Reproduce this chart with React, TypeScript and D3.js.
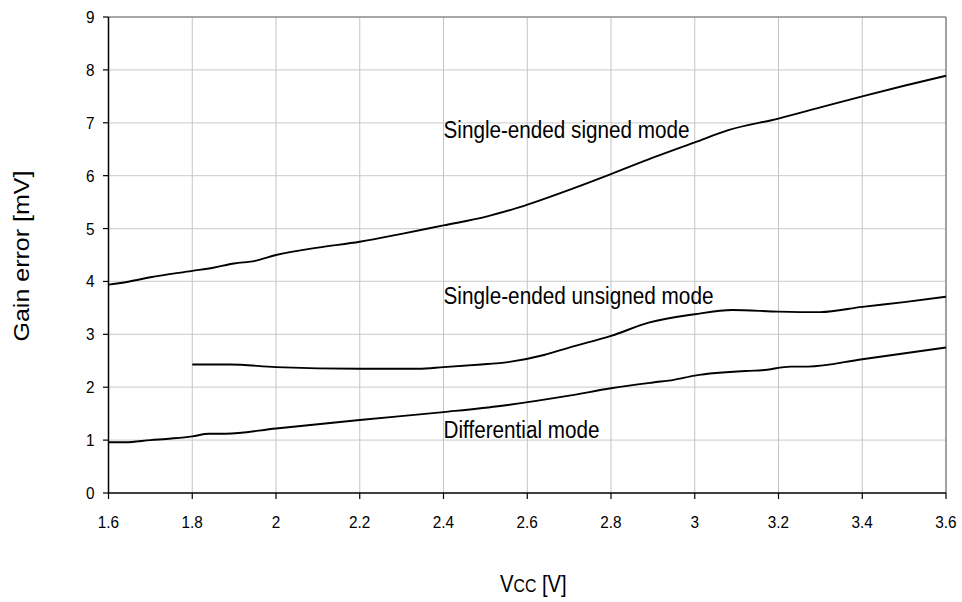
import React from "react";
import * as d3 from "d3";

const xTicks = [1.6, 1.8, 2.0, 2.2, 2.4, 2.6, 2.8, 3.0, 3.2, 3.4, 3.6];
const xTickLabels = ["1.6", "1.8", "2", "2.2", "2.4", "2.6", "2.8", "3", "3.2", "3.4", "3.6"];
const yTicks = [0, 1, 2, 3, 4, 5, 6, 7, 8, 9];

const signedX = [1.6, 1.65, 1.7, 1.8, 1.85, 1.9, 1.95, 2.0, 2.1, 2.2, 2.3, 2.4, 2.5, 2.58, 2.71, 2.8, 2.9, 3.0, 3.08, 3.2, 3.3, 3.4, 3.5, 3.6];
const signedY = [3.94, 4.0, 4.08, 4.2, 4.26, 4.34, 4.39, 4.5, 4.64, 4.75, 4.9, 5.06, 5.22, 5.4, 5.76, 6.03, 6.34, 6.63, 6.86, 7.08, 7.29, 7.5, 7.7, 7.89];

const unsignedX = [1.8, 1.89, 2.0, 2.2, 2.34, 2.4, 2.49, 2.54, 2.64, 2.7, 2.8, 2.89, 3.0, 3.09, 3.2, 3.3, 3.4, 3.5, 3.6];
const unsignedY = [2.43, 2.43, 2.38, 2.35, 2.35, 2.38, 2.43, 2.46, 2.61, 2.75, 2.97, 3.22, 3.38, 3.46, 3.43, 3.42, 3.52, 3.61, 3.71];

const diffX = [1.6, 1.64, 1.7, 1.75, 1.8, 1.84, 1.88, 2.0, 2.2, 2.4, 2.54, 2.7, 2.8, 2.9, 2.95, 3.0, 3.13, 3.16, 3.23, 3.27, 3.4, 3.6];
const diffY = [0.96, 0.96, 1.0, 1.03, 1.07, 1.12, 1.12, 1.22, 1.38, 1.53, 1.65, 1.84, 1.98, 2.09, 2.14, 2.22, 2.31, 2.32, 2.39, 2.39, 2.53, 2.75];

const seriesLabels = ["Single-ended signed mode", "Single-ended unsigned mode", "Differential mode"];

const W = 962, H = 602;
const L = 108.5, R = 946, T = 17, B = 493;
const FONT = "'Liberation Sans', Arial, sans-serif";

export default function App() {
  const x = d3.scaleLinear().domain([1.6, 3.6]).range([L, R]);
  const y = d3.scaleLinear().domain([0, 9]).range([B, T]);
  const line = d3.line<[number, number]>().x(d => x(d[0])).y(d => y(d[1])).curve(d3.curveMonotoneX);
  const series = [
    signedX.map((v, i) => [v, signedY[i]] as [number, number]),
    unsignedX.map((v, i) => [v, unsignedY[i]] as [number, number]),
    diffX.map((v, i) => [v, diffY[i]] as [number, number]),
  ];
  const labelPos = [
    { x: 2.4, y: 6.72, len: 246 },
    { x: 2.4, y: 3.58, len: 270 },
    { x: 2.4, y: 1.04, len: 156 },
  ];
  return (
    <svg width={W} height={H} style={{ position: "absolute", left: 0, top: 0, background: "#fff" }} fontFamily={FONT}>
      <rect x={0} y={0} width={W} height={H} fill="#fff" />
      {yTicks.slice(1, -1).map(t => (
        <line key={"hg" + t} x1={L} x2={R} y1={y(t)} y2={y(t)} stroke="#d4d4d4" strokeWidth={1.2} />
      ))}
      {xTicks.slice(1, -1).map(t => (
        <line key={"vg" + t} x1={x(t)} x2={x(t)} y1={T} y2={B} stroke="#c4c4c4" strokeWidth={1} />
      ))}
      <line x1={L} x2={R} y1={T} y2={T} stroke="#8a8a8a" strokeWidth={1.6} />
      <line x1={R} x2={R} y1={T} y2={B} stroke="#8a8a8a" strokeWidth={1.6} />
      <line x1={L} x2={L} y1={T} y2={B + 0.5} stroke="#000" strokeWidth={1.5} />
      <line x1={L} x2={R} y1={B} y2={B} stroke="#000" strokeWidth={1.5} />
      {yTicks.map(t => (
        <g key={"yt" + t}>
          <line x1={L - 5.5} x2={L} y1={y(t)} y2={y(t)} stroke="#000" strokeWidth={1.2} />
          <text transform={`translate(${L - 14},${y(t) + 6}) scale(0.9,1)`} textAnchor="end" fontSize={17} fill="#000">{t}</text>
        </g>
      ))}
      {xTicks.map((t, i) => (
        <g key={"xt" + t}>
          <line x1={x(t)} x2={x(t)} y1={B} y2={B + 6} stroke="#000" strokeWidth={1.2} />
          <text transform={`translate(${x(t)},${B + 34.5}) scale(0.9,1)`} textAnchor="middle" fontSize={17} fill="#000">{xTickLabels[i]}</text>
        </g>
      ))}
      {series.map((s, i) => (
        <path key={"s" + i} d={line(s) || ""} fill="none" stroke="#000" strokeWidth={1.9} />
      ))}
      {seriesLabels.map((lab, i) => (
        <text key={"lab" + i} x={x(labelPos[i].x)} y={y(labelPos[i].y)} fontSize={23} textLength={labelPos[i].len} lengthAdjust="spacingAndGlyphs" fill="#000">{lab}</text>
      ))}
      <text transform={`translate(28.5,256) rotate(-90)`} textAnchor="middle" fontSize={22} textLength={171} lengthAdjust="spacingAndGlyphs" fill="#000">Gain error [mV]</text>
      <text transform={`translate(500,591.5) scale(0.88,1)`} fontSize={23} fill="#000">
        V<tspan fontSize={18}>CC</tspan> [V]
      </text>
    </svg>
  );
}
